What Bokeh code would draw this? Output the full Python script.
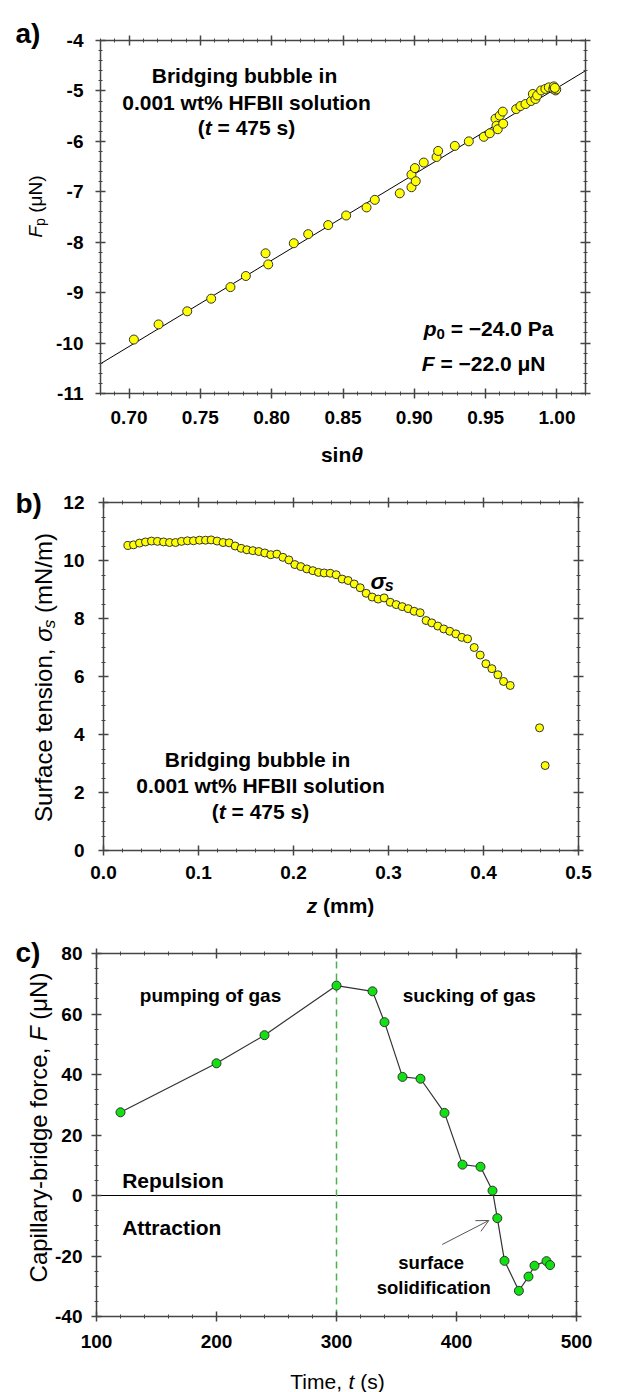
import math
from bokeh.plotting import figure
from bokeh.layouts import column
from bokeh.models import (Label, Arrow, OpenHead, LinearAxis, SingleIntervalTicker,
                          NumeralTickFormatter, Range1d)
from bokeh.embed import file_html
from bokeh.resources import INLINE

FONT = "Liberation Sans"
AX = "#454545"
NB = "\u00a0"

# ---------------- data ----------------
# panel a: F_p vs sin(theta)
sin_theta = [0.7034, 0.7207, 0.7408, 0.7576, 0.7711, 0.7819, 0.7957, 0.7976, 0.8155, 0.8256,
             0.8396, 0.8522, 0.8665, 0.8723, 0.8898, 0.8980, 0.8980, 0.9004, 0.9010, 0.9066,
             0.9156, 0.9167, 0.9284, 0.9382, 0.9487, 0.9529, 0.9569, 0.9576, 0.9585, 0.9599,
             0.9620, 0.9623, 0.9714, 0.9744, 0.9779, 0.9819, 0.9831, 0.9849, 0.9861, 0.9889,
             0.9919, 0.9943, 0.9974, 0.9978, 0.9990, 0.9995, 0.9985]
f_p = [-9.93, -9.63, -9.37, -9.12, -8.89, -8.67, -8.22, -8.44, -8.02, -7.84,
       -7.66, -7.47, -7.31, -7.16, -7.03, -6.91, -6.66, -6.53, -6.79, -6.42,
       -6.31, -6.19, -6.09, -6.00, -5.91, -5.84, -5.55, -5.69, -5.76, -5.49,
       -5.41, -5.65, -5.36, -5.30, -5.26, -5.20, -5.06, -5.16, -5.09, -4.99,
       -4.96, -4.93, -4.96, -4.91, -4.99, -4.97, -4.94]
fit_x = [0.68, 1.02]
fit_y = [-10.41, -4.60]
xr_a, yr_a = (0.68, 1.02), (-11, -4)

# panel b: surface tension vs z
z_mm = [0.0257, 0.0316, 0.0379, 0.0442, 0.0505, 0.0568, 0.0632, 0.0695, 0.0758, 0.0821,
        0.0884, 0.0947, 0.1011, 0.1074, 0.1133, 0.1196, 0.1259, 0.1323, 0.1386, 0.1449,
        0.1509, 0.1572, 0.1635, 0.1698, 0.1761, 0.1825, 0.1888, 0.1951, 0.2014, 0.2077,
        0.2140, 0.2204, 0.2263, 0.2323, 0.2386, 0.2449, 0.2512, 0.2575, 0.2639, 0.2702,
        0.2765, 0.2828, 0.2891, 0.2954, 0.3018, 0.3081, 0.3144, 0.3207, 0.3270, 0.3333,
        0.3396, 0.3456, 0.3519, 0.3582, 0.3645, 0.3709, 0.3772, 0.3832, 0.3902, 0.3965,
        0.4025, 0.4088, 0.4151, 0.4211, 0.4281, 0.4590, 0.4649]
sigma_s = [10.52, 10.54, 10.60, 10.64, 10.67, 10.66, 10.64, 10.62, 10.62, 10.66,
           10.68, 10.68, 10.70, 10.70, 10.71, 10.67, 10.62, 10.61, 10.50, 10.42,
           10.37, 10.34, 10.31, 10.26, 10.20, 10.22, 10.11, 10.02, 9.86, 9.79,
           9.71, 9.65, 9.59, 9.57, 9.56, 9.51, 9.36, 9.31, 9.19, 9.06,
           8.87, 8.74, 8.67, 8.71, 8.56, 8.48, 8.41, 8.34, 8.25, 8.20,
           7.93, 7.85, 7.74, 7.64, 7.56, 7.47, 7.35, 7.30, 7.00, 6.74,
           6.44, 6.27, 6.06, 5.83, 5.69, 4.23, 2.93]
xr_b, yr_b = (0.0, 0.5), (0, 12)

# panel c: capillary-bridge force vs time
time_s = [120, 200, 240, 300, 330, 340, 355, 370, 390, 405, 420, 430, 434, 440, 452, 460, 465, 475, 478]
force_uN = [27.5, 43.7, 53.0, 69.4, 67.5, 57.3, 39.2, 38.6, 27.3, 10.2, 9.5, 1.6, -7.5, -21.6,
            -31.5, -26.8, -23.2, -21.7, -23.0]
switch_time = 300
xr_c, yr_c = (100, 500), (-40, 80)

# ---------------- text metrics (Arial-compatible) ----------------
W_REG = {' ': 278, NB: 278, '(': 333, ')': 333, ',': 278, '-': 333, '.': 278, '/': 278, '=': 584,
         '%': 889, '\u2212': 584, 'A': 667, 'B': 667, 'C': 722, 'F': 611, 'H': 722, 'I': 278,
         'N': 722, 'P': 667, 'R': 722, 'S': 667, 'T': 611, 'a': 556, 'b': 556, 'c': 500, 'd': 556,
         'e': 556, 'f': 278, 'g': 556, 'h': 556, 'i': 222, 'k': 500, 'l': 222, 'm': 833, 'n': 556,
         'o': 556, 'p': 556, 'r': 333, 's': 500, 't': 278, 'u': 556, 'w': 722, 'y': 500, 'z': 500,
         '\u03bc': 576, '\u03c3': 570, '\u03b8': 556}
W_BOLD = {' ': 278, NB: 278, '(': 333, ')': 333, ',': 278, '-': 333, '.': 278, '/': 278, '=': 584,
          '%': 889, '\u2212': 584, 'A': 722, 'B': 722, 'C': 722, 'F': 611, 'H': 722, 'I': 278,
          'N': 722, 'P': 667, 'R': 722, 'S': 667, 'T': 611, 'a': 556, 'b': 611, 'c': 556, 'd': 611,
          'e': 556, 'f': 333, 'g': 611, 'h': 611, 'i': 278, 'k': 556, 'l': 278, 'm': 889, 'n': 611,
          'o': 611, 'p': 611, 'r': 389, 's': 556, 't': 333, 'u': 611, 'w': 778, 'y': 556, 'z': 500,
          '\u03bc': 611, '\u03c3': 620, '\u03b8': 611}


def tw(s, size, bold):
    t = W_BOLD if bold else W_REG
    return sum(t.get(c, 556) for c in s) * size / 1000.0


class Box:
    """Maps page pixels to data for a figure whose frame fills its whole canvas."""
    def __init__(self, H, yoff, xr, yr, left, right, top, bottom, W=630):
        self.xr, self.yr = xr, yr
        self.l, self.b = left, bottom
        self.kx = (xr[1] - xr[0]) / (right - left)
        self.ky = (yr[1] - yr[0]) / (bottom - top)
        self.x_range = (self.dx(0), self.dx(W))
        self.y_range = (self.dy(yoff + H), self.dy(yoff))

    def dx(self, px):
        return self.xr[0] + (px - self.l) * self.kx

    def dy(self, py):
        return self.yr[0] + (self.b - py) * self.ky


def rich(p, bx, px, py, pieces, angle=0.0, align="center"):
    """pieces: (text, size, bold, italic, shift_px_down); px, py in page pixels"""
    total = sum(tw(t, s, b) for t, s, b, i, sh in pieces)
    adv = {"left": 0.0, "center": -total / 2.0, "right": -total}[align]
    for t, s, b, i, sh in pieces:
        style = " ".join([w for w, f in (("bold", b), ("italic", i)) if f]) or "normal"
        if angle == 0:
            xo, yo = adv, -sh
        else:
            xo, yo = sh, adv
        p.add_layout(Label(x=bx.dx(px), y=bx.dy(py), x_offset=xo, y_offset=yo, text=t,
                           angle=angle, text_font=FONT, text_font_size=f"{s}px",
                           text_font_style=style, text_align="left",
                           text_baseline="alphabetic", text_color="black"))
        adv += tw(t, s, b)


def style_axis(ax, fmt, standoff, show_labels=True):
    ax.axis_line_color = AX
    ax.axis_line_width = 1.5
    ax.major_tick_line_color = AX
    ax.major_tick_line_width = 1.5
    ax.minor_tick_line_color = AX
    ax.minor_tick_line_width = 1
    ax.major_tick_in = 5
    ax.major_tick_out = 5
    ax.minor_tick_in = 2
    ax.minor_tick_out = 2
    ax.formatter = NumeralTickFormatter(format=fmt)
    ax.major_label_text_font = FONT
    ax.major_label_text_font_style = "bold"
    ax.major_label_text_font_size = "19px"
    ax.major_label_standoff = standoff
    ax.major_label_text_color = "black" if show_labels else None


def make_fig(height, bx, xint, xminor, yint, yminor, xfmt, yfmt, xstand, ystand):
    p = figure(width=630, height=height, x_range=Range1d(*bx.x_range), y_range=Range1d(*bx.y_range),
               output_backend="svg", toolbar_location=None, x_axis_type=None, y_axis_type=None,
               min_border=0, min_border_left=0, min_border_right=0, min_border_top=0,
               min_border_bottom=0)
    p.outline_line_color = None
    p.background_fill_color = "white"
    p.border_fill_color = "white"
    for loc, fixed in (("below", bx.yr[0]), ("above", bx.yr[1])):
        ax = LinearAxis(ticker=SingleIntervalTicker(interval=xint, num_minor_ticks=xminor),
                        fixed_location=fixed, bounds=bx.xr)
        style_axis(ax, xfmt, xstand, loc == "below")
        p.add_layout(ax, loc)
    for loc, fixed in (("left", bx.xr[0]), ("right", bx.xr[1])):
        ax = LinearAxis(ticker=SingleIntervalTicker(interval=yint, num_minor_ticks=yminor),
                        fixed_location=fixed, bounds=bx.yr)
        style_axis(ax, yfmt, ystand, loc == "left")
        p.add_layout(ax, loc)
    return p


PANEL_X = 15

# ---------------- panel a ----------------
H_A, H_B, H_C = 465, 455, 472
ba = Box(H_A, 0, xr_a, yr_a, 100, 585, 40, 393)
pa = make_fig(H_A, ba, 0.05, 5, 1, 5, "0.00", "0", 12, 12)
pa.line(fit_x, fit_y, line_color="black", line_width=1)
pa.scatter(sin_theta, f_p, size=9, fill_color="#FFFF00", line_color="#333333", line_width=1)

rich(pa, ba, PANEL_X, 33, [("a)", 28, True, False, 0)], align="left")
rich(pa, ba, 244, 75, [("Bridging bubble in", 21, True, False, 0)])
rich(pa, ba, 246, 101.7, [("0.001 wt% HFBII solution", 21, True, False, 0)])
rich(pa, ba, 246, 126.7, [("(", 21, True, False, 0), ("t", 21, True, True, 0),
                          (NB + "= 475 s)", 21, True, False, 0)])
rich(pa, ba, 553, 328, [("p", 21, True, True, 0), ("0", 15, True, False, 5),
                        (NB + "= \u221224.0 Pa", 21, True, False, 0)], align="right")
rich(pa, ba, 545, 363, [("F", 21, True, True, 0), (NB + "= \u221222.0 \u03bcN", 21, True, False, 0)],
     align="right")
rich(pa, ba, 342, 454, [("sin", 21, True, False, 0), ("\u03b8", 21, True, True, 0)])
rich(pa, ba, 35, 206, [("F", 19, False, True, 0), ("p", 14, False, False, 4),
                       (NB + "(\u03bcN)", 19, False, False, 0)], angle=math.pi / 2)

# ---------------- panel b ----------------
bb = Box(H_B, 465, xr_b, yr_b, 103, 578, 502, 850)
pb = make_fig(H_B, bb, 0.1, 5, 2, 4, "0.0", "0", 10, 14)
pb.scatter(z_mm, sigma_s, size=8, fill_color="#FFFF00", line_color="#333333", line_width=1)

rich(pb, bb, PANEL_X, 503, [("b)", 28, True, False, 0)], align="left")
rich(pb, bb, 370, 580, [("\u03c3", 23, True, True, 0), ("s", 16, True, True, 5)], align="left")
rich(pb, bb, 257, 759, [("Bridging bubble in", 21, True, False, 0)])
rich(pb, bb, 260, 785, [("0.001 wt% HFBII solution", 21, True, False, 0)])
rich(pb, bb, 260, 810.7, [("(", 21, True, False, 0), ("t", 21, True, True, 0),
                          (NB + "= 475 s)", 21, True, False, 0)])
rich(pb, bb, 340, 905, [("z", 21, True, True, 0), (NB + "(mm)", 21, True, False, 0)])
rich(pb, bb, 43, 677, [("Surface tension," + NB, 24, False, False, 0), ("\u03c3", 24, False, True, 0),
                       ("s", 17, False, True, 6), (NB + "(mN/m)", 24, False, False, 0)],
     angle=math.pi / 2)

# ---------------- panel c ----------------
bc = Box(H_C, 920, xr_c, yr_c, 96, 576, 953, 1316)
pc = make_fig(H_C, bc, 100, 5, 20, 4, "0", "0", 13, 9)
pc.line(list(xr_c), [0, 0], line_color="black", line_width=1)
pc.line([switch_time, switch_time], list(yr_c), line_color="#4CAF50", line_width=1.5,
        line_dash="7 5")
pc.line(time_s, force_uN, line_color="#333333", line_width=1.2)
pc.scatter(time_s, force_uN, size=9, fill_color="#11E011", line_color="#333333", line_width=1)

rich(pc, bc, PANEL_X, 952, [("c)", 28, True, False, 0)], align="left")
rich(pc, bc, 210, 995, [("pumping of gas", 19, True, False, 0)])
rich(pc, bc, 468.7, 995, [("sucking of gas", 19, True, False, 0)])
rich(pc, bc, 121.7, 1180, [("Repulsion", 21, True, False, 0)], align="left")
rich(pc, bc, 121.7, 1227.3, [("Attraction", 21, True, False, 0)], align="left")
rich(pc, bc, 430.7, 1261.7, [("surface", 18.5, True, False, 0)])
rich(pc, bc, 433.3, 1286.7, [("solidification", 18.5, True, False, 0)])
pc.add_layout(Arrow(end=OpenHead(size=12, line_color="#555555", line_width=1),
                    x_start=bc.dx(441.7), y_start=bc.dy(1244),
                    x_end=bc.dx(488.3), y_end=bc.dy(1220),
                    line_color="#555555", line_width=1))
rich(pc, bc, 337, 1381, [("Time," + NB, 21, False, False, 0), ("t", 21, False, True, 0),
                         (NB + "(s)", 21, False, False, 0)])
rich(pc, bc, 38, 1127, [("Capillary-bridge force," + NB, 24, False, False, 0),
                        ("F", 24, False, True, 0), (NB + "(\u03bcN)", 24, False, False, 0)],
     angle=math.pi / 2)

layout = column(pa, pb, pc, spacing=0)
open("out.html", "w").write(file_html(layout, INLINE))
